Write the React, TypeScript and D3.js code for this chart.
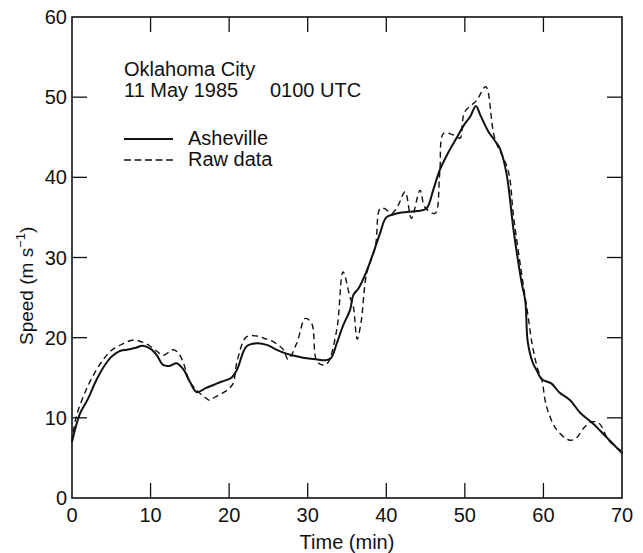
import React, { useRef, useEffect } from 'react';
import * as d3 from 'd3';

// Asheville (smoothed) series
const ashevilleTime = [0, 1, 2, 3, 4, 5, 6, 7, 8, 9, 10, 10.8, 11.6, 12.5, 13.3, 14.2, 15, 15.9, 17, 18, 19, 20.3, 21, 22.2, 23.5, 24.8, 26, 27, 28, 29.4, 31, 32.4, 33, 33.7, 34.5, 35.4, 35.8, 36.5, 37.5, 38.5, 39.2, 40, 41, 42, 43, 44, 45.1, 46, 46.8, 48, 49, 50, 50.7, 51.4, 52, 53, 53.8, 54.5, 55.3, 56.2, 57.2, 57.7, 58, 58.6, 59.2, 59.8, 61, 62, 63.4, 64.7, 66.3, 68, 70];
const ashevilleSpeed = [7, 10.5, 12.3, 14.5, 16.3, 17.6, 18.3, 18.5, 18.7, 19, 18.6, 17.8, 16.6, 16.5, 16.8, 16, 14.5, 13.2, 13.7, 14.1, 14.5, 15, 16, 18.9, 19.3, 19.1, 18.5, 18.1, 17.8, 17.5, 17.3, 17.2, 17.5, 19.3, 21.5, 23.5, 25.3, 26.2, 28.3, 31, 33, 35, 35.4, 35.6, 35.7, 35.8, 36.1, 38.5, 40.9, 43.3, 45, 46.7, 47.6, 48.9, 47.7, 45.7, 44.6, 43.5, 40.5, 33.4, 27, 24.5, 19.5, 17, 15.8, 14.8, 14.3, 13.2, 12.2, 10.6, 9.3, 7.6, 5.6];

// Raw data series
const rawTime = [0, 0.5, 1.8, 3, 4, 5, 6, 7.8, 9.1, 10, 10.8, 11.6, 12.9, 13.6, 14.2, 14.9, 16, 17, 17.5, 18.2, 19, 20.4, 21, 22.2, 23.5, 24.5, 25.6, 26.9, 27.5, 28.6, 29.7, 30.5, 31.1, 31.8, 32.5, 33.7, 34.5, 35.4, 35.8, 36.3, 36.8, 37.5, 38.6, 39.2, 39.8, 40.7, 41.5, 42.4, 43.2, 44.3, 44.9, 46.2, 46.8, 47.3, 48.5, 49.4, 49.7, 50, 51.5, 52.65, 53.8, 55.5, 56.2, 57.4, 58, 58.6, 59.3, 59.8, 60.4, 61.7, 63.4, 64.2, 65.1, 66.1, 67.1, 68.3, 70];
const rawSpeed = [7, 10, 13.5, 15.8, 17.3, 18.4, 19, 19.7, 19.4, 18.9, 18.3, 17.8, 18.5, 18, 16.8, 14.7, 13.3, 12.5, 12.2, 12.6, 13, 14.1, 17, 20.1, 20.2, 19.9, 19.5, 18.5, 17.3, 19.3, 22.4, 21.8, 17.2, 16.6, 16.8, 21, 28.2, 25, 23.9, 19.8, 22, 28, 31.3, 36.1, 36.1, 35.5, 36.5, 38.2, 34.9, 38.4, 36.3, 35.5, 40.5, 45.5, 45.3, 44.9, 47, 48.2, 49.6, 51.3, 44.9, 40.9, 35.1, 26.8, 23, 19, 16, 14.7, 11.4, 8.5, 7.2, 7.5, 8.7, 9.5, 9.3, 7.2, 5.8];

const xTicks = [0, 10, 20, 30, 40, 50, 60, 70];
const yTicks = [0, 10, 20, 30, 40, 50, 60];
const titleLines = ['Oklahoma City', '11 May 1985'];
const titleTime = '0100 UTC';
const seriesNames = ['Asheville', 'Raw data'];

const font = '"Liberation Sans", Arial, Helvetica, sans-serif';

const SpeedChart = () => {
    const svgRef = useRef();
    const width = 643;
    const height = 553;
    const margin = { top: 17, right: 21, bottom: 55, left: 72 };
    const innerW = width - margin.left - margin.right;
    const innerH = height - margin.top - margin.bottom;

    useEffect(() => {
        const svg = d3.select(svgRef.current);
        svg.selectAll('*').remove();

        const x = d3.scaleLinear().domain([0, 70]).range([0, innerW]);
        const y = d3.scaleLinear().domain([0, 60]).range([innerH, 0]);

        const g = svg.append('g')
            .attr('transform', 'translate(' + margin.left + ',' + margin.top + ')');

        // frame
        g.append('rect')
            .attr('width', innerW)
            .attr('height', innerH)
            .attr('fill', 'none')
            .attr('stroke', '#111')
            .attr('stroke-width', 1.6);

        // inward ticks on all four sides
        const tickLen = 15;
        const inner = (d, lo, hi) => d > lo && d < hi;
        g.selectAll('.xtb').data(xTicks.filter(d => inner(d, 0, 70))).enter().append('line')
            .attr('x1', d => x(d)).attr('x2', d => x(d))
            .attr('y1', innerH).attr('y2', innerH - tickLen)
            .attr('stroke', '#111').attr('stroke-width', 1.3);
        g.selectAll('.xtt').data(xTicks.filter(d => inner(d, 0, 70))).enter().append('line')
            .attr('x1', d => x(d)).attr('x2', d => x(d))
            .attr('y1', 0).attr('y2', tickLen)
            .attr('stroke', '#111').attr('stroke-width', 1.3);
        g.selectAll('.ytl').data(yTicks.filter(d => inner(d, 0, 60))).enter().append('line')
            .attr('x1', 0).attr('x2', tickLen)
            .attr('y1', d => y(d)).attr('y2', d => y(d))
            .attr('stroke', '#111').attr('stroke-width', 1.3);
        g.selectAll('.ytr').data(yTicks.filter(d => inner(d, 0, 60))).enter().append('line')
            .attr('x1', innerW).attr('x2', innerW - tickLen)
            .attr('y1', d => y(d)).attr('y2', d => y(d))
            .attr('stroke', '#111').attr('stroke-width', 1.3);

        // tick labels
        g.selectAll('.xl').data(xTicks).enter().append('text')
            .attr('x', d => x(d))
            .attr('y', innerH + 24)
            .attr('text-anchor', 'middle')
            .attr('font-family', font)
            .attr('font-size', 20)
            .attr('fill', '#111')
            .text(d => d);
        g.selectAll('.yl').data(yTicks).enter().append('text')
            .attr('x', -5)
            .attr('y', d => y(d) + 7)
            .attr('text-anchor', 'end')
            .attr('font-family', font)
            .attr('font-size', 20)
            .attr('fill', '#111')
            .text(d => d);

        // axis titles
        svg.append('text')
            .attr('x', margin.left + x(35))
            .attr('y', 549)
            .attr('text-anchor', 'middle')
            .attr('font-family', font)
            .attr('font-size', 20)
            .attr('fill', '#111')
            .text('Time (min)');
        const yl = svg.append('text')
            .attr('transform', 'translate(33,345) rotate(-90)')
            .attr('font-family', font)
            .attr('font-size', 19)
            .attr('fill', '#111');
        yl.append('tspan').text('Speed (m s');
        yl.append('tspan').attr('dy', -8).attr('font-size', 13).text('−1');
        yl.append('tspan').attr('dy', 8).text(')');

        // lines
        const line = d3.line()
            .x(d => x(d[0]))
            .y(d => y(d[1]))
            .curve(d3.curveCatmullRom.alpha(0.5));

        const rawPts = rawTime.map((t, i) => [t, rawSpeed[i]]);
        const ashPts = ashevilleTime.map((t, i) => [t, ashevilleSpeed[i]]);

        g.append('path')
            .attr('d', line(rawPts))
            .attr('fill', 'none')
            .attr('stroke', '#111')
            .attr('stroke-width', 1.4)
            .attr('stroke-dasharray', '6,4');
        g.append('path')
            .attr('d', line(ashPts))
            .attr('fill', 'none')
            .attr('stroke', '#111')
            .attr('stroke-width', 2);

        // annotation
        const ann = svg.append('g').attr('font-family', font).attr('font-size', 20).attr('fill', '#111');
        ann.append('text').attr('x', 124).attr('y', 76).text(titleLines[0]);
        ann.append('text').attr('x', 124).attr('y', 97).text(titleLines[1]);
        ann.append('text').attr('x', 270).attr('y', 97).text(titleTime);

        // legend
        ann.append('line').attr('x1', 124).attr('x2', 173).attr('y1', 139).attr('y2', 139)
            .attr('stroke', '#111').attr('stroke-width', 2);
        ann.append('text').attr('x', 188).attr('y', 145).text(seriesNames[0]);
        ann.append('line').attr('x1', 124).attr('x2', 173).attr('y1', 160).attr('y2', 160)
            .attr('stroke', '#111').attr('stroke-width', 1.4).attr('stroke-dasharray', '7,3.5');
        ann.append('text').attr('x', 188).attr('y', 166).text(seriesNames[1]);
    // eslint-disable-next-line
    }, []);

    return (
        <svg ref={svgRef} width={width} height={height}
            style={{ position: 'absolute', left: 0, top: 0, background: '#fff' }} />
    );
};

export default function App() {
    return <SpeedChart />;
}
